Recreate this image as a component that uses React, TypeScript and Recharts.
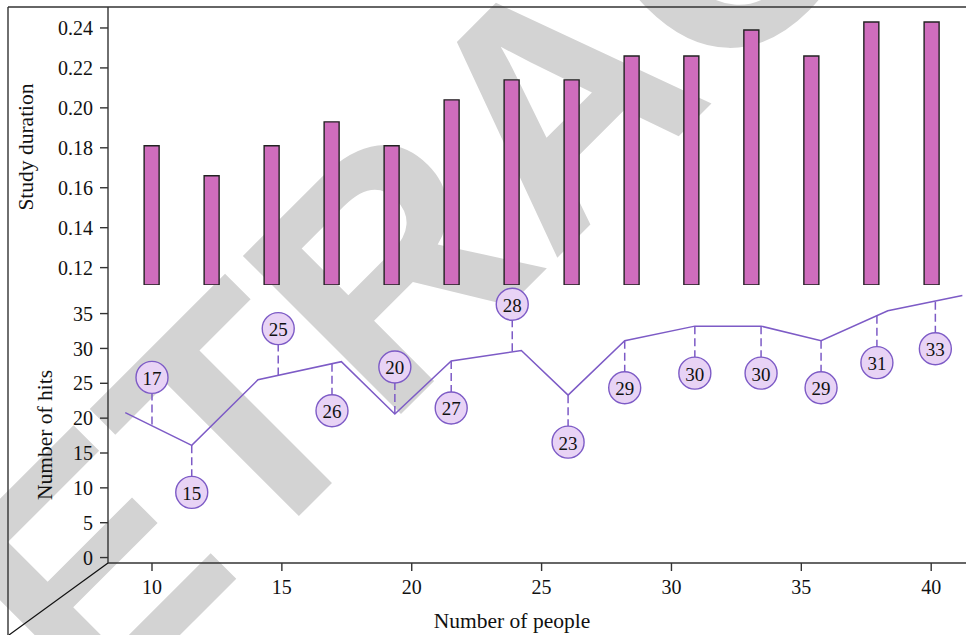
import React from "react";
import { BarChart, Bar, ComposedChart, Line, Scatter, XAxis, YAxis, Label } from "recharts";

// shared x scale (number of people)
const X_DOMAIN: [number, number] = [8.306, 41.34];
const peopleTicks = [10, 15, 20, 25, 30, 35, 40];

// upper panel: study duration bars
const barPeople = [10, 12.31, 14.62, 16.93, 19.24, 21.55, 23.86, 26.17, 28.48, 30.78, 33.09, 35.4, 37.71, 40.03];
const studyDuration = [0.181, 0.166, 0.181, 0.193, 0.181, 0.204, 0.214, 0.214, 0.226, 0.226, 0.239, 0.226, 0.243, 0.243];
const durationTicks = [0.12, 0.14, 0.16, 0.18, 0.2, 0.22, 0.24];

// lower panel: number of hits line
const linePeople = [8.97, 11.53, 14.08, 17.29, 19.35, 21.52, 24.22, 26.02, 28.2, 30.9, 33.45, 35.76, 38.33, 41.2];
const lineHits = [20.8, 16.1, 25.5, 28.1, 20.6, 28.2, 29.7, 23.3, 31.1, 33.2, 33.2, 31.1, 35.4, 37.6];
const hitsTicks = [0, 5, 10, 15, 20, 25, 30, 35];

// bubble callouts on the line
const calloutPeople = [10.0, 11.53, 14.86, 16.93, 19.35, 21.52, 23.87, 26.02, 28.2, 30.9, 33.45, 35.76, 37.91, 40.16];
const calloutHitsAt = [19.1, 16.1, 26.1, 27.8, 20.6, 28.2, 29.6, 23.3, 31.1, 33.2, 33.2, 31.1, 34.7, 36.7];
const calloutValues = [17, 15, 25, 26, 20, 27, 28, 23, 29, 30, 30, 29, 31, 33];
const calloutSide = ["up", "down", "up", "down", "up", "down", "up", "down", "down", "down", "down", "down", "down", "down"];

const barData = barPeople.map((x, i) => ({ x, duration: studyDuration[i] }));
const lineData = linePeople.map((x, i) => ({ x, hits: lineHits[i] }));
const calloutData = calloutPeople.map((x, i) => ({
  x,
  hits: calloutHitsAt[i],
  value: calloutValues[i],
  side: calloutSide[i],
}));

const SERIF = "'Liberation Serif', 'Times New Roman', serif";
const INK = "#222";
const PURPLE = "#7d5bc6";
const tickStyle = { fill: "#111", fontSize: 20, fontFamily: SERIF };
const axisLine = { stroke: "#333", strokeWidth: 1.4 };

function Callout(props: any) {
  const { cx, cy, payload } = props;
  if (cx == null || cy == null) return null;
  const r = 16;
  const dir = payload.side === "up" ? -1 : 1;
  const cyc = cy + dir * 47;
  return (
    <g>
      <line x1={cx} y1={cy} x2={cx} y2={cyc - dir * r} stroke={PURPLE} strokeWidth={1.5} strokeDasharray="8 4" />
      <circle cx={cx} cy={cyc} r={r} fill="#e8d3f5" stroke={PURPLE} strokeWidth={1.4} />
      <text x={cx} y={cyc + 1} textAnchor="middle" dominantBaseline="central" fontFamily={SERIF} fontSize={19} fill="#111">
        {payload.value}
      </text>
    </g>
  );
}

function SideTitle(props: any) {
  const { viewBox, text, dx, dy } = props;
  const x = viewBox.x + dx;
  const y = viewBox.y + viewBox.height / 2 + dy;
  return (
    <text x={x} y={y} transform={`rotate(-90 ${x} ${y})`} textAnchor="middle" dominantBaseline="central"
      fontFamily={SERIF} fontSize={21.5} fill="#111">
      {text}
    </text>
  );
}

function BottomTitle(props: any) {
  const { viewBox } = props;
  return (
    <text x={512} y={viewBox.y + 58} textAnchor="middle" dominantBaseline="central" fontFamily={SERIF} fontSize={21.5} fill="#111">
      Number of people
    </text>
  );
}

export default function App() {
  return (
    <div style={{ position: "absolute", left: 0, top: 0, width: 966, height: 635, overflow: "hidden", background: "#fff" }}>
      <svg width={966} height={635} style={{ position: "absolute", left: 0, top: 0 }}>
        <text x={-74} y={889} transform="rotate(-45 -74 889)" fontFamily="'Liberation Sans', Arial, sans-serif"
          fontWeight="bold" fontSize={325} fill="#d3d3d3">
          RETRACTED
        </text>
        <line x1={8} y1={7} x2={966} y2={7} stroke="#333" strokeWidth={1.4} />
        <line x1={8} y1={7} x2={8} y2={635} stroke="#333" strokeWidth={1.4} />
        <line x1={108} y1={563} x2={9} y2={635} stroke="#111" strokeWidth={1.2} />
      </svg>

      <div style={{ position: "absolute", left: 0, top: 0 }}>
        <BarChart width={966} height={285} data={barData} margin={{ top: 7, right: 0, bottom: 0, left: 0 }}>
          <XAxis type="number" dataKey="x" domain={X_DOMAIN} allowDataOverflow height={0} tick={false}
            tickLine={false} axisLine={axisLine} />
          <YAxis type="number" domain={[0.1113, 0.2505]} allowDataOverflow ticks={durationTicks} width={108}
            tickFormatter={(v: number) => v.toFixed(2)} tick={tickStyle} tickSize={8} tickMargin={7}
            axisLine={axisLine} tickLine={axisLine}>
            <Label content={(p: any) => <SideTitle {...p} text="Study duration" dx={26} dy={1} />} />
          </YAxis>
          <Bar dataKey="duration" barSize={15} fill="#cf6dbd" stroke={INK} strokeWidth={1.4} isAnimationActive={false} />
        </BarChart>
      </div>

      <div style={{ position: "absolute", left: 0, top: 285 }}>
        <ComposedChart width={966} height={350} margin={{ top: 0, right: 0, bottom: 0, left: 0 }}>
          <XAxis type="number" dataKey="x" domain={X_DOMAIN} allowDataOverflow ticks={peopleTicks} height={72}
            tick={tickStyle} tickSize={8} tickMargin={9} axisLine={axisLine} tickLine={axisLine}>
            <Label content={(p: any) => <BottomTitle {...p} />} />
          </XAxis>
          <YAxis type="number" domain={[-0.78, 39.1]} allowDataOverflow ticks={hitsTicks} width={108}
            tick={tickStyle} tickSize={8} tickMargin={7} axisLine={axisLine} tickLine={axisLine}>
            <Label content={(p: any) => <SideTitle {...p} text="Number of hits" dx={45} dy={11} />} />
          </YAxis>
          <Line data={lineData} dataKey="hits" type="linear" stroke={PURPLE} strokeWidth={1.5} dot={false}
            isAnimationActive={false} />
          <Scatter data={calloutData} dataKey="hits" shape={Callout} isAnimationActive={false} />
        </ComposedChart>
      </div>
    </div>
  );
}
